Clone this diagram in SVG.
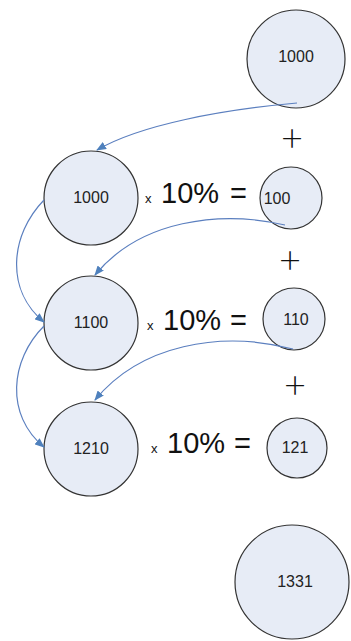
<svg xmlns="http://www.w3.org/2000/svg" width="351" height="641" viewBox="0 0 351 641">
<style>
.n{fill:#e7ecf6;stroke:#333;stroke-width:1.2}
.t{font-family:"Liberation Sans",Arial,sans-serif;font-size:16px;fill:#222;text-anchor:middle}
.big{font-family:"Liberation Sans",Arial,sans-serif;font-size:29px;fill:#111}
.x{font-family:"Liberation Sans",Arial,sans-serif;font-size:13px;fill:#111}
.p{font-family:Lato,"Liberation Sans",sans-serif;font-weight:300;font-size:38px;fill:#111;text-anchor:middle}
.c{fill:none;stroke:#5b7fbf;stroke-width:1.2;marker-end:url(#ah)}
</style>
<defs>
<marker id="ah" viewBox="0 0 10 8" refX="9" refY="4" markerWidth="10" markerHeight="8" markerUnits="userSpaceOnUse" orient="auto">
<path d="M0,0 L10,4 L0,8 Z" fill="#4f81bd"/>
</marker>
</defs>
<rect width="351" height="641" fill="#fff"/>
<g id="top1000"><circle class="n" cx="296" cy="59" r="49"/><text class="t" x="296" y="62">1000</text></g>
<g id="n1000"><circle class="n" cx="91" cy="198" r="47"/><text class="t" x="91" y="203">1000</text></g>
<g id="n1100"><circle class="n" cx="91" cy="323" r="47"/><text class="t" x="91" y="328">1100</text></g>
<g id="n1210"><circle class="n" cx="91" cy="449" r="47"/><text class="t" x="91" y="454">1210</text></g>
<g id="n100"><circle class="n" cx="291" cy="198" r="31"/><text class="t" x="277" y="204">100</text></g>
<g id="n110"><circle class="n" cx="294" cy="319" r="31"/><text class="t" x="296" y="325">110</text></g>
<g id="n121"><circle class="n" cx="297" cy="448" r="30"/><text class="t" x="295" y="453">121</text></g>
<g id="n1331"><circle class="n" cx="292" cy="582" r="57"/><text class="t" x="295" y="587">1331</text></g>
<g id="ops">
<text class="x" x="145" y="203">x</text><text class="big" x="161" y="203">10%</text><text class="big" x="230" y="203">=</text>
<text class="x" x="147" y="330">x</text><text class="big" x="163" y="330">10%</text><text class="big" x="230" y="330">=</text>
<text class="x" x="151" y="453">x</text><text class="big" x="167" y="453">10%</text><text class="big" x="234" y="453">=</text>
<text class="p" x="292" y="151">+</text>
<text class="p" x="290" y="273">+</text>
<text class="p" x="295" y="398">+</text>
</g>
<g id="connectors">
<path class="c" d="M297,103 C220,110 140,125 97,150"/>
<path class="c" d="M285,225 C220,210 140,220 95,275"/>
<path class="c" d="M293,349 C220,330 140,345 95,400"/>
<path class="c" d="M44,200 C10,235 5,290 44,322"/>
<path class="c" d="M44,326 C10,360 5,415 44,447"/>
</g>
</svg>
